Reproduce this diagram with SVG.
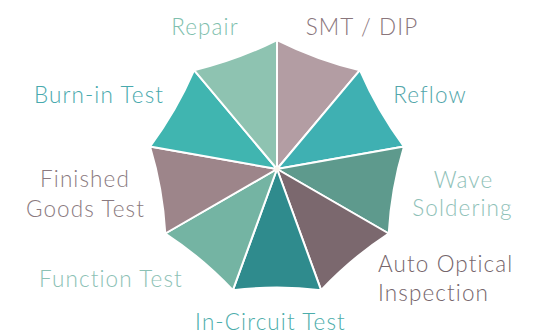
<svg xmlns="http://www.w3.org/2000/svg" width="536" height="336" viewBox="0 0 536 336">
  <style>
    .lbl { font-family: Lato, "Liberation Sans", sans-serif; font-size: 22.5px; font-weight: 300; letter-spacing: 1.1px; }
    .seg { stroke: #ffffff; stroke-width: 2; stroke-linejoin: round; }
  </style>
  <rect width="536" height="336" fill="#ffffff"/>
  <g id="umbrella">
    <g id="smt-dip-seg"><path class="seg" fill="#b39da3" d="M277,169 L277,40 Q316.7,59.9 359.9,70.2 Z"/></g>
    <g id="reflow-seg"><path class="seg" fill="#3fb0b2" d="M277,169 L359.9,70.2 Q377.5,111 404,146.6 Z"/></g>
    <g id="wave-seg"><path class="seg" fill="#5e9a8d" d="M277,169 L404,146.6 Q391.2,189.1 388.7,233.5 Z"/></g>
    <g id="aoi-seg"><path class="seg" fill="#7b686e" d="M277,169 L388.7,233.5 Q351.5,257.9 321.1,290.2 Z"/></g>
    <g id="ict-seg"><path class="seg" fill="#2f8b8d" d="M277,169 L321.1,290.2 Q277,285 232.9,290.2 Z"/></g>
    <g id="function-seg"><path class="seg" fill="#74b4a3" d="M277,169 L232.9,290.2 Q202.5,257.9 165.3,233.5 Z"/></g>
    <g id="finished-seg"><path class="seg" fill="#9d858a" d="M277,169 L165.3,233.5 Q162.8,189.1 150,146.6 Z"/></g>
    <g id="burnin-seg"><path class="seg" fill="#40b5b0" d="M277,169 L150,146.6 Q176.5,111 194.1,70.2 Z"/></g>
    <g id="repair-seg"><path class="seg" fill="#8ec3b1" d="M277,169 L194.1,70.2 Q237.3,59.9 277,40 Z"/></g>
    <circle cx="277" cy="169" r="2.5" fill="#fbf6ee"/>
  </g>
  <g id="labels" class="lbl">
    <g id="repair"><text x="205" y="35" text-anchor="middle" fill="#7fbfae">Repair</text></g>
    <g id="smt-dip"><text x="362" y="35" text-anchor="middle" fill="#8a767c">SMT / DIP</text></g>
    <g id="burn-in"><text x="99" y="103" text-anchor="middle" fill="#48a9ad">Burn-in Test</text></g>
    <g id="finished"><text x="85" y="187" text-anchor="middle" fill="#8a7a80">Finished</text><text x="85.5" y="217" text-anchor="middle" fill="#8a7a80">Goods Test</text></g>
    <g id="reflow"><text x="430" y="103" text-anchor="middle" fill="#52a6aa">Reflow</text></g>
    <g id="wave"><text x="463.5" y="188" text-anchor="middle" fill="#8fc1b8">Wave</text><text x="462.5" y="216" text-anchor="middle" fill="#8fc1b8">Soldering</text></g>
    <g id="aoi"><text x="378" y="272" fill="#76666c">Auto Optical</text><text x="378" y="301" fill="#76666c">Inspection</text></g>
    <g id="function"><text x="111" y="287" text-anchor="middle" fill="#8cc1b5">Function Test</text></g>
    <g id="ict"><text x="270.5" y="330" text-anchor="middle" fill="#4cadab">In-Circuit Test</text></g>
  </g>
</svg>
